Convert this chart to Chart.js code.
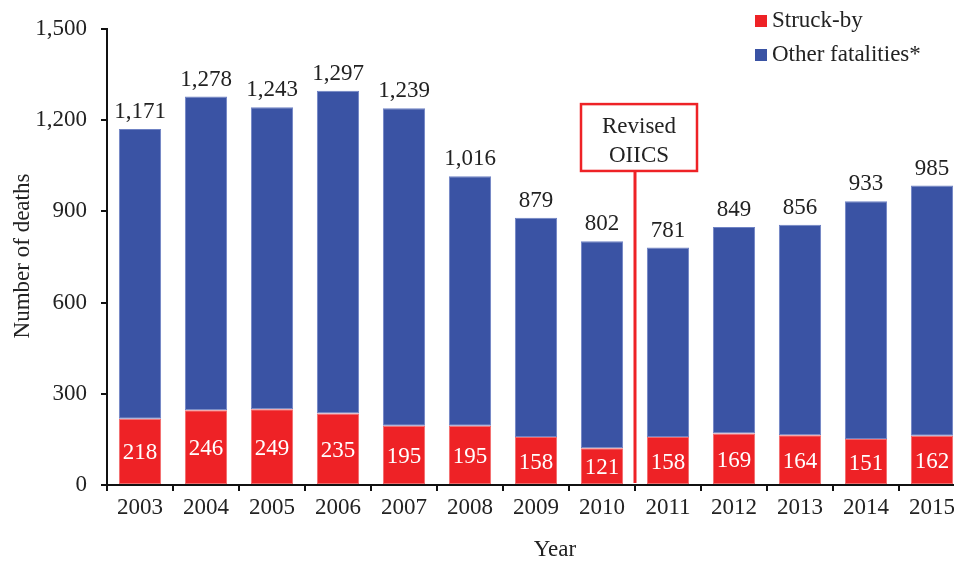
<!DOCTYPE html>
<html>
<head>
<meta charset="utf-8">
<script src="https://cdn.jsdelivr.net/npm/chart.js@4"></script>
<style>
html,body{margin:0;padding:0;background:#fff;overflow:hidden;width:954px;height:561px;}
#wrap{position:absolute;left:0;top:0;width:975px;height:561px;}
</style>
</head>
<body>
<div id="wrap"><canvas id="c" width="975" height="561"></canvas></div>
<script>
const years = ['2003','2004','2005','2006','2007','2008','2009','2010','2011','2012','2013','2014','2015'];
const struckBy = [218,246,249,235,195,195,158,121,158,169,164,151,162];
const otherFatalities = [953,1032,994,1062,1044,821,721,681,623,680,692,782,823];
const totals = [1171,1278,1243,1297,1239,1016,879,802,781,849,856,933,985];
const yTicks = [0,300,600,900,1200,1500];
const seriesNames = ['Struck-by','Other fatalities*'];
const annotationText = ['Revised','OIICS'];

const RED = '#EE2226';
const BLUE = '#3A53A4';
const FONT = '"Liberation Serif", "Times New Roman", serif';
const FS = 23;

const labelPlugin = {
  id:'labels',
  afterDatasetsDraw(chart){
    const ctx = chart.ctx;
    const m0 = chart.getDatasetMeta(0);
    const m1 = chart.getDatasetMeta(1);
    ctx.save();
    ctx.font = FS + 'px ' + FONT;
    ctx.textAlign = 'center';
    ctx.textBaseline = 'middle';
    m0.data.forEach((bar,i)=>{
      ctx.fillStyle = '#ffffff';
      ctx.fillText(String(struckBy[i]), bar.x, (bar.y + bar.base)/2 + 2);
    });
    m1.data.forEach((bar,i)=>{
      ctx.fillStyle = '#222222';
      ctx.fillText(totals[i].toLocaleString('en-US'), bar.x, bar.y - 17);
    });
    // annotation
    const xs = chart.scales.x;
    const ys = chart.scales.y;
    const lx = (xs.getPixelForValue(7) + xs.getPixelForValue(8)) / 2;
    const boxTop = ys.getPixelForValue(1253);
    const boxBot = ys.getPixelForValue(1033);
    const bl = lx - 54, bw = 116;
    ctx.strokeStyle = RED;
    ctx.lineWidth = 3;
    ctx.beginPath();
    ctx.moveTo(lx, boxBot);
    ctx.lineTo(lx, ys.getPixelForValue(0) - 2);
    ctx.stroke();
    ctx.fillStyle = '#fff';
    ctx.fillRect(bl, boxTop, bw, boxBot - boxTop);
    ctx.lineWidth = 2.5;
    ctx.strokeRect(bl, boxTop, bw, boxBot - boxTop);
    ctx.fillStyle = '#222';
    const cx = bl + bw/2;
    ctx.fillText(annotationText[0], cx, boxTop + 23);
    ctx.fillText(annotationText[1], cx, boxTop + 52);
    // axis titles
    ctx.save();
    ctx.translate(23, 256);
    ctx.rotate(-Math.PI/2);
    ctx.fillText('Number of deaths', 0, 0);
    ctx.restore();
    ctx.fillText('Year', 555, 550);
    // legend
    const cols = [RED, BLUE];
    const ly = [21, 55];
    ctx.textAlign = 'left';
    for (let k=0;k<2;k++){
      ctx.fillStyle = cols[k];
      ctx.fillRect(755, ly[k]-6, 12, 12);
      ctx.fillStyle = '#222';
      ctx.fillText(seriesNames[k], 772, ly[k]);
    }
    ctx.restore();
  }
};

new Chart(document.getElementById('c'), {
  type:'bar',
  data:{
    labels: years,
    datasets:[
      {label:seriesNames[0], data:struckBy, backgroundColor:RED, borderColor:'#F26A6C', borderWidth:1, borderSkipped:false, barPercentage:0.64, categoryPercentage:1},
      {label:seriesNames[1], data:otherFatalities, backgroundColor:BLUE, borderColor:'#6F82C4', borderWidth:1, borderSkipped:false, barPercentage:0.64, categoryPercentage:1}
    ]
  },
  options:{
    responsive:false,
    animation:false,
    layout:{padding:{left:0,right:10,top:29,bottom:0}},
    plugins:{legend:{display:false}, tooltip:{enabled:false}},
    scales:{
      x:{
        stacked:true,
        offset:true,
        grid:{display:true, drawOnChartArea:false, drawTicks:true, tickLength:6, color:'#111', lineWidth:2, offset:true},
        border:{display:true, color:'#111', width:2},
        ticks:{color:'#222', font:{family:FONT, size:FS}, padding:3, maxRotation:0, autoSkip:false},
        afterFit(s){ s.height = 76; }
      },
      y:{
        stacked:true,
        min:0, max:1500,
        afterBuildTicks(s){ s.ticks = yTicks.map(v=>({value:v})); },
        grid:{display:true, drawOnChartArea:false, drawTicks:true, tickLength:6, color:'#111', lineWidth:2},
        border:{display:true, color:'#111', width:2},
        ticks:{color:'#222', font:{family:FONT, size:FS}, padding:14, callback:v=>v.toLocaleString('en-US')},
        afterFit(s){ s.width = 107; }
      }
    }
  },
  plugins:[labelPlugin]
});
</script>
</body>
</html>
